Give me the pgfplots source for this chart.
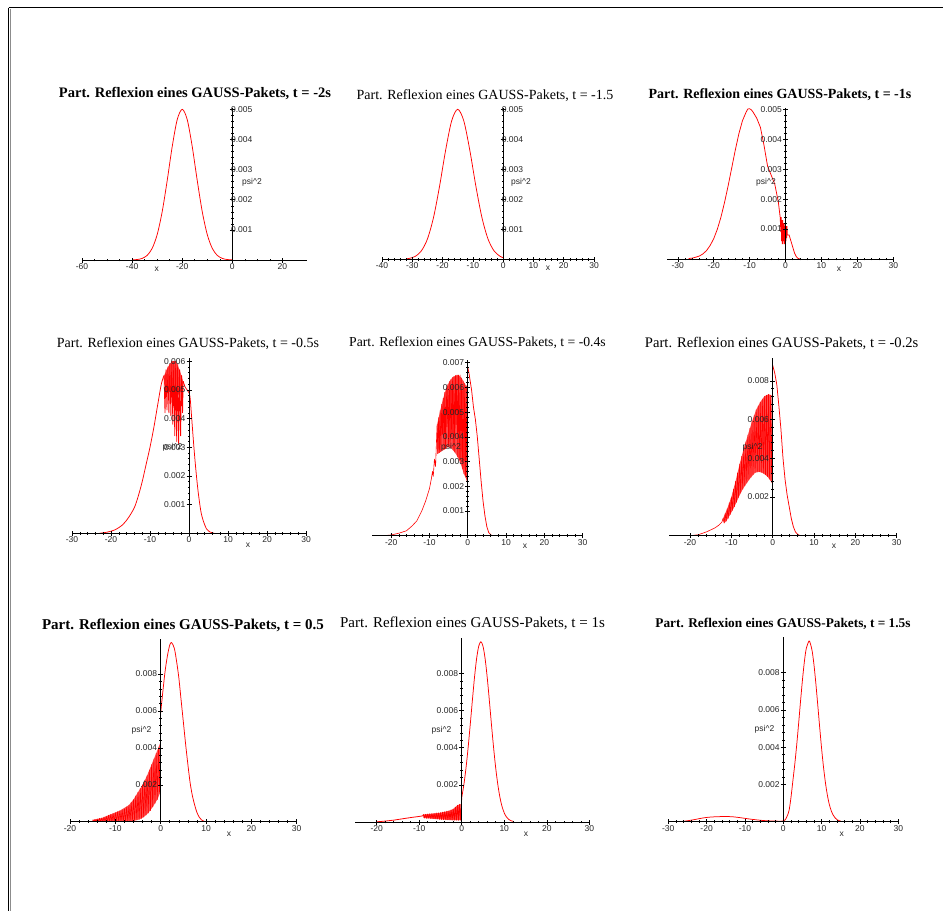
\documentclass[border=0pt]{standalone}
\usepackage{fontspec}
\setmainfont{Liberation Serif}
\newfontfamily\arial{Liberation Sans}
\usepackage{pgfplots}
\pgfplotsset{compat=1.18}
\pgfplotsset{maple/.style={
  scale only axis, anchor=south west, axis on top,
  axis lines=middle, axis line style={-, black, line width=0.7pt},
  tick align=center, major tick length=5pt, minor tick length=2.5pt,
  tick style={black, line width=0.5pt},
  hide obscured x ticks=false, hide obscured y ticks=false,
  scaled x ticks=false, scaled y ticks=false,
  ymin=0,
  tick label style={font=\arial\fontsize{8.5}{10}\selectfont, text=black!85},
  xticklabel style={inner sep=1pt},
  yticklabel style={inner sep=1pt},
  minor x tick num=4, minor y tick num=4,
}}
\tikzset{crv/.style={red, line width=0.75pt}, zz/.style={red, line width=0.6pt, line join=round},
  env/.style={fill=red!70!white, draw=none},
  ttl/.style={anchor=base, inner sep=0pt},
  lab/.style={font=\arial\fontsize{8.5}{10}\selectfont, text=black!85, inner sep=0pt}}
\begin{document}
\begin{tikzpicture}
\path[use as bounding box] (0pt,0pt) rectangle (943pt,-911pt);
\draw[line width=1.8pt] (8.5pt,-7.5pt) -- (943pt,-7.5pt);
\draw[line width=1.4pt] (8.5pt,-7.5pt) -- (8.5pt,-911pt);
\draw[line width=0.8pt, black!45] (10pt,-8.5pt) -- (10pt,-911pt);

% ---------- Panel 1 ----------
\begin{axis}[maple, at={(82pt,-260pt)}, width=225.5pt, height=152.2pt,
  xmin=-60, xmax=30, ymax=0.00505,
  xtick={-60,-40,-20,0,20}, xticklabels={-60,-40,-20,0,20}, minor x tick num=3,
  ytick={0.001,0.002,0.003,0.004,0.005}, yticklabels={0.001,0.002,0.003,0.004,0.005},
  yticklabel style={anchor=west}]
\addplot[crv, smooth] coordinates {(-40,0.000004) (-38,0.0000157) (-36,0.0000524) (-34,0.000153) (-32,0.000385) (-30,0.000843) (-28,0.0016) (-26,0.002634) (-24,0.003761) (-22,0.004657) (-20,0.005) (-18,0.004657) (-16,0.003761) (-14,0.002634) (-12,0.0016) (-10,0.000843) (-8,0.000385) (-6,0.000153) (-4,0.0000524) (-2,0.0000157) (0,0.000004)};
\end{axis}
\node[ttl, font=\fontsize{14.5}{16}\selectfont\bfseries] at (195pt,-97.3pt) {Part. Reflexion eines GAUSS-Pakets, t = -2s};
\node[lab] at (252pt,-182pt) {psi\textasciicircum 2};
\node[lab] at (156.7pt,-269pt) {x};

% ---------- Panel 2 ----------
\begin{axis}[maple, at={(382pt,-259.3pt)}, width=212pt, height=151.5pt,
  xmin=-40, xmax=30, ymax=0.00505,
  xtick={-40,-30,-20,-10,0,10,20,30}, xticklabels={-40,-30,-20,-10,0,10,20,30},
  ytick={0.001,0.002,0.003,0.004,0.005}, yticklabels={0.001,0.002,0.003,0.004,0.005},
  yticklabel style={anchor=west}]
\addplot[crv, smooth] coordinates {(-32,0.0000155) (-31,0.0000299) (-29,0.0000992) (-27,0.000281) (-25,0.000677) (-23,0.00139) (-21,0.002434) (-19,0.003631) (-17,0.004616) (-15,0.005) (-13,0.004616) (-11,0.003631) (-9,0.002434) (-7,0.00139) (-5,0.000677) (-3,0.000281) (-1,0.0000992) (0,0.0000555)};
\end{axis}
\node[ttl, font=\fontsize{14}{16}\selectfont] at (485pt,-99pt) {Part. Reflexion eines GAUSS-Pakets, t = -1.5};
\node[lab] at (521pt,-182pt) {psi\textasciicircum 2};
\node[lab] at (548pt,-268pt) {x};

% ---------- Panel 3 ----------
\begin{axis}[maple, at={(667pt,-259pt)}, width=226.3pt, height=151.2pt,
  xmin=-33, xmax=30, ymax=0.00505,
  xtick={-30,-20,-10,0,10,20,30}, xticklabels={-30,-20,-10,0,10,20,30},
  ytick={0.001,0.002,0.003,0.004,0.005}, yticklabels={0.001,0.002,0.003,0.004,0.005}]
\addplot[crv] coordinates {(-27,0.0000155) (-26,0.00003) (-25,0.00006) (-24,0.0000992) (-23,0.00017) (-22,0.000281) (-21,0.00045) (-20,0.000677) (-19,0.00099) (-18,0.00139) (-17,0.00188) (-16,0.002434) (-15,0.00303) (-14,0.003631) (-13,0.00418) (-12,0.004616) (-11,0.0049) (-10.5,0.00501) (-10,0.00502) (-9.5,0.00498) (-9,0.0049) (-8,0.0047) (-7,0.0044) (-6,0.0038) (-5,0.0031) (-4,0.0028) (-3,0.0025) (-2,0.0019) (-1.5,0.0014) (-1.3,0.0009) (-1.2,0.0014) (-1.1,0.0006) (-1.0,0.0013) (-0.9,0.0005) (-0.8,0.0013) (-0.7,0.0005) (-0.6,0.0012) (-0.5,0.0006) (-0.4,0.0012) (-0.3,0.0005) (-0.2,0.0011) (-0.1,0.0005) (0.0,0.0012) (0.1,0.0006) (0.2,0.0011) (0.3,0.0007) (0.4,0.0011) (0.5,0.0008) (1,0.0008) (1.5,0.0006) (2,0.0004) (2.5,0.0002) (3,0.00008) (3.5,0.00002) (4,0)};
\end{axis}
\node[ttl, font=\fontsize{14}{16}\selectfont\bfseries] at (780pt,-98.3pt) {Part. Reflexion eines GAUSS-Pakets, t = -1s};
\node[lab] at (766pt,-182pt) {psi\textasciicircum 2};
\node[lab] at (839pt,-269pt) {x};

% ---------- Panel 4 ----------
\begin{axis}[maple, at={(72pt,-533.3pt)}, width=234pt, height=175pt,
  xmin=-30, xmax=30, ymax=0.0061,
  xtick={-30,-20,-10,0,10,20,30}, xticklabels={-30,-20,-10,0,10,20,30},
  ytick={0.001,0.002,0.003,0.004,0.005,0.006}, yticklabels={0.001,0.002,0.003,0.004,0.005,0.006}]
\addplot[env] coordinates {(-6.4,0.0055) (-5.4,0.0058) (-4.4,0.006) (-3.4,0.006) (-2.4,0.0057) (-1.5,0.0053) (-1.5,0.0050) (-2.4,0.0049) (-3.4,0.0047) (-4.4,0.0050) (-5.4,0.0051) (-6.4,0.0052)} -- cycle;
\addplot[crv, smooth] coordinates {(-23,0) (-21,0.00004) (-19,0.00012) (-17,0.0003) (-15.5,0.00055) (-14,0.0009) (-13,0.0013) (-12,0.0018) (-11,0.0024) (-10,0.003) (-9,0.0037) (-8,0.0045) (-7.1,0.0052) (-6.4,0.0055)};
\addplot[zz, line width=0.8pt] coordinates {(-6.4,0.0055) (-6.15,0.0042) (-5.9,0.0057) (-5.65,0.0043) (-5.4,0.0058) (-5.15,0.0042) (-4.9,0.0059) (-4.65,0.0041) (-4.4,0.0060) (-4.15,0.0038) (-3.9,0.0060) (-3.65,0.0034) (-3.4,0.0060) (-3.15,0.0032) (-2.9,0.0059) (-2.65,0.0031) (-2.4,0.0057) (-2.15,0.0034) (-1.9,0.0055) (-1.65,0.0042) (-1.5,0.0053)};
\addplot[crv, smooth] coordinates {(-1.5,0.0053) (-1,0.0051) (-0.5,0.005) (0,0.0049) (0.3,0.0047) (0.7,0.004) (1.2,0.0031) (1.7,0.0023) (2.3,0.0015) (3,0.0008) (3.6,0.00046) (4.5,0.00015) (5.3,0.00005) (6.5,0)};
\end{axis}
\node[ttl, font=\fontsize{14}{16}\selectfont] at (188pt,-347.3pt) {Part. Reflexion eines GAUSS-Pakets, t = -0.5s};
\node[lab] at (172.5pt,-447pt) {psi\textasciicircum 2};
\node[lab] at (248pt,-545pt) {x};

% ---------- Panel 5 ----------
\begin{axis}[maple, at={(372pt,-535.7pt)}, width=210.6pt, height=175.5pt,
  xmin=-25, xmax=30, ymax=0.0071,
  xtick={-20,-10,0,10,20,30}, xticklabels={-20,-10,0,10,20,30},
  ytick={0.001,0.002,0.003,0.004,0.005,0.006,0.007}, yticklabels={0.001,0.002,0.003,0.004,0.005,0.006,0.007}]
\addplot[env] coordinates {(-8,0.0045) (-7.2,0.00506) (-6.4,0.00556) (-5.6,0.00596) (-4.8,0.00624) (-4.0,0.0064) (-3.2,0.00648) (-2.4,0.0065) (-1.6,0.00638) (-0.8,0.00616) (-0.2,0.006) (-0.2,0.00223) (-1.0,0.0025) (-1.8,0.0029) (-2.6,0.00318) (-3.4,0.00338) (-4.2,0.00352) (-5.0,0.0036) (-5.8,0.00352) (-6.6,0.00344) (-7.4,0.00336) (-8,0.0033)} -- cycle;
\addplot[zz] coordinates {(-22,0) (-20,0.00003) (-18,0.0001) (-16,0.0002) (-14.5,0.0004) (-13.3,0.0006) (-12,0.001) (-11,0.0014) (-10,0.0019) (-9.5,0.0023) (-9.2,0.0026) (-9,0.0024) (-8.7,0.0031) (-8.4,0.0028)
 (-8.0,0.0045) (-7.8,0.00332) (-7.6,0.00478) (-7.4,0.00336) (-7.2,0.00506) (-7.0,0.0034) (-6.8,0.00532) (-6.6,0.0041) (-6.4,0.00556) (-6.2,0.00348) (-6.0,0.0058) (-5.8,0.00352) (-5.6,0.00596) (-5.4,0.0044) (-5.2,0.00612) (-5.0,0.0036) (-4.8,0.00624) (-4.6,0.00356) (-4.4,0.00632) (-4.2,0.0040) (-4.0,0.0064) (-3.8,0.00346) (-3.6,0.00644) (-3.4,0.00338) (-3.2,0.00648) (-3.0,0.0045) (-2.8,0.0065) (-2.6,0.00318) (-2.4,0.0065) (-2.2,0.00306) (-2.0,0.0065) (-1.8,0.0029) (-1.6,0.00638) (-1.4,0.0027) (-1.2,0.00626) (-1.0,0.0025) (-0.8,0.00616) (-0.6,0.00237) (-0.4,0.00607) (-0.2,0.00223)
 (0,0.0068)};
\addplot[crv] coordinates {(0,0.0068) (0.3,0.0066) (1,0.0059) (1.5,0.0052) (2,0.0047) (2.5,0.004) (3,0.0031) (3.5,0.0022) (4,0.0014) (4.5,0.0008) (5,0.00036) (5.5,0.00012) (6.3,0)};
\end{axis}
\node[ttl, font=\fontsize{13.7}{16}\selectfont] at (477.5pt,-346.7pt) {Part. Reflexion eines GAUSS-Pakets, t = -0.4s};
\node[lab] at (451pt,-447pt) {psi\textasciicircum 2};
\node[lab] at (525pt,-546pt) {x};

% ---------- Panel 6 ----------
\begin{axis}[maple, at={(669.4pt,-535.7pt)}, width=227.2pt, height=178.2pt,
  xmin=-25, xmax=30, ymax=0.0092,
  xtick={-20,-10,0,10,20,30}, xticklabels={-20,-10,0,10,20,30},
  ytick={0.002,0.004,0.006,0.008}, yticklabels={0.002,0.004,0.006,0.008}]
\addplot[env] coordinates {(-12,0.0009) (-11,0.0014) (-10,0.002) (-9,0.0028) (-8,0.0037) (-7,0.0045) (-6,0.0052) (-5,0.0059) (-4,0.0065) (-3,0.0069) (-2,0.0072) (-1,0.0073) (-0.25,0.00725) (-0.25,0.00275) (-1.25,0.00305) (-2.25,0.00322) (-3.25,0.0033) (-4.25,0.00325) (-5.25,0.00302) (-6.25,0.00272) (-7.25,0.0024) (-8.25,0.00197) (-9.25,0.0015) (-10.25,0.0011) (-11.25,0.00075) (-11.75,0.00065)} -- cycle;
\addplot[zz] coordinates {(-20,0) (-18,0.00005) (-16,0.0002) (-14,0.0004) (-13,0.00055) (-12.3,0.0007)
 (-12,0.0009) (-11.75,0.00065) (-11.5,0.00115) (-11.25,0.00075) (-11,0.0014) (-10.75,0.0009) (-10.5,0.0017) (-10.25,0.0011) (-10,0.002) (-9.75,0.0013) (-9.5,0.0024) (-9.25,0.0015) (-9,0.0028) (-8.75,0.00172) (-8.5,0.00325) (-8.25,0.00197) (-8,0.0037) (-7.75,0.0022) (-7.5,0.0041) (-7.25,0.0024) (-7,0.0045) (-6.75,0.00258) (-6.5,0.00485) (-6.25,0.00272) (-6,0.0052) (-5.75,0.00288) (-5.5,0.00555) (-5.25,0.00302) (-5,0.0059) (-4.75,0.00315) (-4.5,0.0062) (-4.25,0.00325) (-4,0.0065) (-3.75,0.0033) (-3.5,0.0067) (-3.25,0.0033) (-3,0.0069) (-2.75,0.00328) (-2.5,0.00705) (-2.25,0.00322) (-2,0.0072) (-1.75,0.00315) (-1.5,0.00725) (-1.25,0.00305) (-1,0.0073) (-0.75,0.00293) (-0.5,0.00725) (-0.25,0.00275)
 (0,0.0088)};
\addplot[crv] coordinates {(0,0.0088) (0.5,0.0084) (1,0.0078) (1.5,0.0067) (2,0.0055) (2.5,0.004) (3,0.0029) (3.5,0.0021) (4,0.0015) (4.5,0.0009) (5,0.00047) (5.5,0.0002) (6,0.00008) (6.6,0)};
\end{axis}
\node[ttl, font=\fontsize{14.6}{16}\selectfont] at (781.7pt,-347.3pt) {Part. Reflexion eines GAUSS-Pakets, t = -0.2s};
\node[lab] at (752.5pt,-447pt) {psi\textasciicircum 2};
\node[lab] at (834pt,-546pt) {x};

% ---------- Panel 7 ----------
\begin{axis}[maple, at={(70pt,-821.7pt)}, width=226.7pt, height=182.8pt,
  xmin=-20, xmax=30, ymax=0.0099,
  xtick={-20,-10,0,10,20,30}, xticklabels={-20,-10,0,10,20,30},
  ytick={0.002,0.004,0.006,0.008}, yticklabels={0.002,0.004,0.006,0.008}]
\addplot[env] coordinates {(-15,0.0001) (-13,0.0002) (-11,0.0004) (-9,0.0006) (-7,0.0009) (-6,0.0012) (-5,0.0016) (-4,0.002) (-3,0.0025) (-2,0.0031) (-1,0.0037) (-0.05,0.0043) (-0.05,0.0016) (-0.75,0.0012) (-1.75,0.0008) (-2.75,0.00047) (-3.75,0.00025) (-4.75,0.00012) (-5.75,0.00006) (-6.75,0.00001) (-15,0)} -- cycle;
\addplot[zz] coordinates {(-15,0.0001) (-14.75,0) (-14.5,0.00012) (-14.25,0) (-14,0.00015) (-13.75,0) (-13.5,0.00018) (-13.25,0) (-13,0.0002) (-12.75,0) (-12.5,0.00025) (-12.25,0) (-12,0.0003) (-11.75,0) (-11.5,0.00035) (-11.25,0) (-11,0.0004) (-10.75,0) (-10.5,0.00045) (-10.25,0) (-10,0.0005) (-9.75,0) (-9.5,0.00055) (-9.25,0) (-9,0.0006) (-8.75,0) (-8.5,0.00065) (-8.25,0) (-8,0.0007) (-7.75,0) (-7.5,0.0008) (-7.25,0) (-7,0.0009) (-6.75,0.00001) (-6.5,0.00105) (-6.25,0.00004) (-6,0.0012) (-5.75,0.00006) (-5.5,0.0014) (-5.25,0.00009) (-5,0.0016) (-4.75,0.00012) (-4.5,0.0018) (-4.25,0.00017) (-4,0.002) (-3.75,0.00025) (-3.5,0.00225) (-3.25,0.00035) (-3,0.0025) (-2.75,0.00047) (-2.5,0.0028) (-2.25,0.0006) (-2,0.0031) (-1.75,0.0008) (-1.5,0.0034) (-1.25,0.001) (-1,0.0037) (-0.75,0.0012) (-0.5,0.004) (-0.25,0.0016) (-0.05,0.0043) (0,0.0059)};
\addplot[crv, smooth] coordinates {(0,0.0059) (0.5,0.0071) (1,0.0082) (1.5,0.009) (2,0.00957) (2.4,0.0097) (3,0.0094) (3.5,0.0087) (4,0.0078) (4.5,0.0066) (5,0.0054) (5.5,0.0042) (6,0.0031) (6.5,0.0021) (7,0.0014) (7.5,0.0009) (8,0.0005) (8.5,0.00025) (9,0.0001) (9.5,0.00003) (10,0)};
\end{axis}
\node[ttl, font=\fontsize{15}{16}\selectfont\bfseries] at (183pt,-629.3pt) {Part. Reflexion eines GAUSS-Pakets, t = 0.5};
\node[lab] at (141.5pt,-730pt) {psi\textasciicircum 2};
\node[lab] at (229pt,-834pt) {x};

% ---------- Panel 8 ----------
\begin{axis}[maple, at={(355.4pt,-822pt)}, width=233.9pt, height=184pt,
  xmin=-25, xmax=30, ymax=0.0099,
  xtick={-20,-10,0,10,20,30}, xticklabels={-20,-10,0,10,20,30},
  ytick={0.002,0.004,0.006,0.008}, yticklabels={0.002,0.004,0.006,0.008}]
\addplot[env] coordinates {(-9,0.0004) (-7,0.00045) (-5,0.0005) (-3,0.0006) (-2,0.0007) (-1,0.0009) (-0.25,0.00097) (-0.25,0.0001) (-3,0.00011) (-6,0.00016) (-9,0.00022)} -- cycle;
\addplot[zz, line width=0.8pt] coordinates {(-20,0.00001) (-18,0.00005) (-16,0.0001) (-14,0.00017) (-12,0.00024) (-10,0.0003) (-9.2,0.00033)
 (-9,0.0004) (-8.75,0.00022) (-8.5,0.00041) (-8.25,0.0002) (-8,0.00043) (-7.75,0.0002) (-7.5,0.00044) (-7.25,0.00019) (-7,0.00045) (-6.75,0.00018) (-6.5,0.00046) (-6.25,0.00017) (-6,0.00048) (-5.75,0.00016) (-5.5,0.00049) (-5.25,0.00015) (-5,0.0005) (-4.75,0.00014) (-4.5,0.00053) (-4.25,0.00013) (-4,0.00055) (-3.75,0.00012) (-3.5,0.00058) (-3.25,0.00012) (-3,0.0006) (-2.75,0.00011) (-2.5,0.00065) (-2.25,0.00011) (-2,0.0007) (-1.75,0.0001) (-1.5,0.0008) (-1.25,0.0001) (-1,0.0009) (-0.75,0.0001) (-0.5,0.00095) (-0.25,0.0001) (0,0.00131)};
\addplot[crv, smooth] coordinates {(0,0.00131) (0.5,0.002) (1,0.00289) (1.5,0.00399) (2,0.00523) (2.5,0.00653) (3,0.00777) (3.5,0.00879) (4,0.00946) (4.5,0.0097) (5,0.00946) (5.5,0.00879) (6,0.00777) (6.5,0.00653) (7,0.00523) (7.5,0.00399) (8,0.00289) (8.5,0.002) (9,0.00131) (9.5,0.00082) (10,0.00049) (10.5,0.00028) (11,0.00015) (11.5,0.00008) (12,0.00004)};
\end{axis}
\node[ttl, font=\fontsize{15}{16}\selectfont] at (472.5pt,-627.3pt) {Part. Reflexion eines GAUSS-Pakets, t = 1s};
\node[lab] at (441.5pt,-730pt) {psi\textasciicircum 2};
\node[lab] at (526pt,-834pt) {x};

% ---------- Panel 9 ----------
\begin{axis}[maple, at={(668.3pt,-821.7pt)}, width=230pt, height=184.4pt,
  xmin=-30, xmax=30, ymax=0.0099,
  xtick={-30,-20,-10,0,10,20,30}, xticklabels={-30,-20,-10,0,10,20,30},
  ytick={0.002,0.004,0.006,0.008}, yticklabels={0.002,0.004,0.006,0.008}]
\addplot[crv, smooth] coordinates {(-27,0) (-25,0.00005) (-23,0.00012) (-21,0.0002) (-19,0.00025) (-17,0.00027) (-15,0.00028) (-13,0.00026) (-11,0.00021) (-9,0.00015) (-7,0.0001) (-5,0.00006) (-3,0.00004) (-1,0.00003) (0,0.00004) (0.5,0.0001) (1,0.0003) (1.5,0.0006) (2,0.0013) (2.5,0.0022) (3,0.0031) (3.5,0.00413) (4,0.00528) (4.5,0.00648) (5,0.00762) (5.5,0.0086) (6,0.00931) (6.7,0.0097) (7,0.0096) (7.5,0.0092) (8,0.00843) (8.5,0.0074) (9,0.00624) (9.5,0.00505) (10,0.00391) (10.5,0.00291) (11,0.00208) (11.5,0.00142) (12,0.00093) (12.5,0.00059) (13,0.00036) (13.5,0.00021) (14,0.00011) (14.5,0.00006) (15,0.00003)};
\end{axis}
\node[ttl, font=\fontsize{13.3}{16}\selectfont\bfseries] at (783pt,-627.3pt) {Part. Reflexion eines GAUSS-Pakets, t = 1.5s};
\node[lab] at (764.5pt,-729pt) {psi\textasciicircum 2};
\node[lab] at (841.7pt,-834pt) {x};
\end{tikzpicture}
\end{document}
